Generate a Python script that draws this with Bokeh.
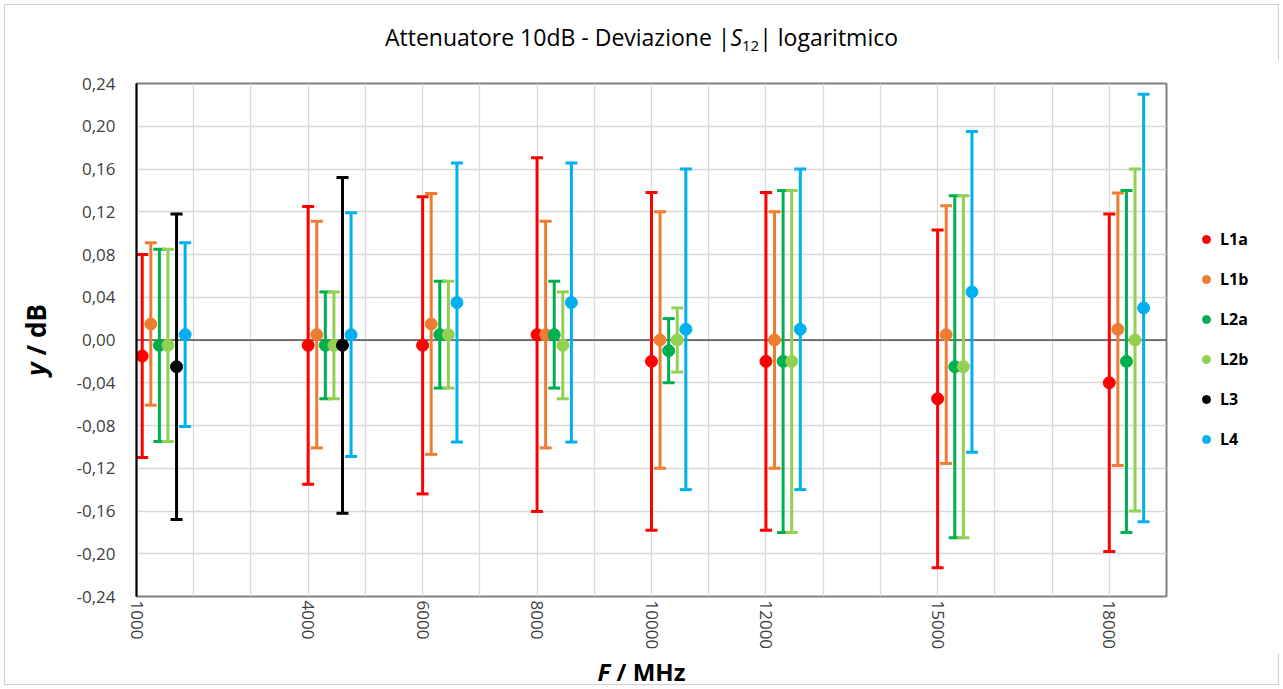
from bokeh.plotting import figure
from bokeh.models import (Range1d, FixedTicker, Whisker, TeeHead, ColumnDataSource,
                          Legend, LegendItem, Span, Div)
from bokeh.layouts import column, row
from bokeh.embed import file_html
from bokeh.resources import INLINE

# ---------------- data ----------------
freq_ticks = [1000, 4000, 6000, 8000, 10000, 12000, 15000, 18000]
freq_labels = ["1000", "4000", "6000", "8000", "10000", "12000", "15000", "18000"]
grid_x = [2000, 3000, 4000, 5000, 6000, 7000, 8000, 9000, 10000, 11000, 12000,
          13000, 14000, 15000, 16000, 17000, 18000, 19000]
y_ticks = [-0.24, -0.20, -0.16, -0.12, -0.08, -0.04, 0.0, 0.04, 0.08, 0.12, 0.16, 0.20, 0.24]
y_tick_labels = ["-0,24", "-0,20", "-0,16", "-0,12", "-0,08", "-0,04", "0,00",
                 "0,04", "0,08", "0,12", "0,16", "0,20", "0,24"]

series_names = ["L1a", "L1b", "L2a", "L2b", "L3", "L4"]
series_colors = ["#FF0000", "#ED7D31", "#00B050", "#92D050", "#000000", "#00B0F0"]

x_L1a = [1100, 4000, 6000, 8000, 10000, 12000, 15000, 18000]
x_L1b = [1250, 4150, 6150, 8150, 10150, 12150, 15150, 18150]
x_L2a = [1400, 4300, 6300, 8300, 10300, 12300, 15300, 18300]
x_L2b = [1550, 4450, 6450, 8450, 10450, 12450, 15450, 18450]
x_L3 = [1700, 4600]
x_L4 = [1850, 4750, 6600, 8600, 10600, 12600, 15600, 18600]

y_L1a = [-0.015, -0.005, -0.005, 0.005, -0.020, -0.020, -0.055, -0.040]
u_L1a = [0.095, 0.130, 0.139, 0.1655, 0.158, 0.158, 0.158, 0.158]
y_L1b = [0.015, 0.005, 0.015, 0.005, 0.000, 0.000, 0.005, 0.010]
u_L1b = [0.076, 0.106, 0.122, 0.106, 0.120, 0.120, 0.1205, 0.1275]
y_L2a = [-0.005, -0.005, 0.005, 0.005, -0.010, -0.020, -0.025, -0.020]
u_L2a = [0.090, 0.050, 0.050, 0.050, 0.030, 0.160, 0.160, 0.160]
y_L2b = [-0.005, -0.005, 0.005, -0.005, 0.000, -0.020, -0.025, 0.000]
u_L2b = [0.090, 0.050, 0.050, 0.050, 0.030, 0.160, 0.160, 0.160]
y_L3 = [-0.025, -0.005]
u_L3 = [0.143, 0.157]
y_L4 = [0.005, 0.005, 0.035, 0.035, 0.010, 0.010, 0.045, 0.030]
u_L4 = [0.086, 0.114, 0.1305, 0.1305, 0.150, 0.150, 0.150, 0.200]

xs = [x_L1a, x_L1b, x_L2a, x_L2b, x_L3, x_L4]
ys = [y_L1a, y_L1b, y_L2a, y_L2b, y_L3, y_L4]
us = [u_L1a, u_L1b, u_L2a, u_L2b, u_L3, u_L4]

title_html = ("Attenuatore 10dB - Deviazione |<i>S</i>"
              "<sub style='font-size:15px;line-height:0;vertical-align:-5px'>12</sub>"
              "| logaritmico")
xlabel_html = "<i>F</i> / MHz"
ylabel_html = "<i>y</i> / dB"

FONT = "Open Sans"
W, H = 1283, 689
TITLE_H, YLAB_W, LEG_W, PLOT_H = 60, 58, 115, 593
XLAB_H = H - TITLE_H - PLOT_H
MB_BOTTOM = 57

p = figure(width=W - YLAB_W - LEG_W, height=PLOT_H, output_backend="svg",
           toolbar_location=None,
           x_range=Range1d(1000, 19000), y_range=Range1d(-0.24, 0.24),
           min_border_left=78, min_border_right=2, min_border_top=23,
           min_border_bottom=MB_BOTTOM, background_fill_color="white",
           border_fill_color="white", title=None, margin=0)

p.outline_line_color = "#808080"
p.outline_line_width = 2

p.xaxis.ticker = FixedTicker(ticks=freq_ticks)
p.xaxis.major_label_overrides = dict(zip(freq_ticks, freq_labels))
p.xaxis.major_label_orientation = "vertical"
p.xaxis.axis_line_color = None
p.yaxis.ticker = FixedTicker(ticks=y_ticks)
p.yaxis.major_label_overrides = dict(zip(y_ticks, y_tick_labels))
p.yaxis.axis_line_color = "black"
p.yaxis.axis_line_width = 2
for ax in (p.xaxis, p.yaxis):
    ax.major_tick_line_color = None
    ax.minor_tick_line_color = None
    ax.major_tick_out = 0
    ax.major_tick_in = 0
    ax.minor_tick_out = 0
    ax.minor_tick_in = 0
    ax.major_label_text_font = FONT
    ax.major_label_text_font_size = "17px"
    ax.major_label_text_color = "#404040"
p.xaxis.major_label_standoff = 4
p.yaxis.major_label_standoff = 21

p.xgrid.ticker = FixedTicker(ticks=grid_x)
p.xgrid.grid_line_color = "#d9d9d9"
p.ygrid.grid_line_color = "#d9d9d9"
p.xgrid.grid_line_width = 1.3
p.ygrid.grid_line_width = 1.3

p.add_layout(Span(location=0, dimension="width", line_color="black",
                  line_width=1, level="underlay"))

# legend lives in its own small figure to the right of the plot area
lf = figure(width=LEG_W, height=PLOT_H, output_backend="svg", toolbar_location=None,
            x_axis_type=None, y_axis_type=None, min_border=0,
            x_range=Range1d(0, 1), y_range=Range1d(0, 1),
            background_fill_color="white", border_fill_color="white",
            outline_line_color=None, title=None, margin=0)

items = []
for name, color, x, y, u in zip(series_names, series_colors, xs, ys, us):
    src = ColumnDataSource(dict(x=x, y=y,
                                upper=[a + b for a, b in zip(y, u)],
                                lower=[a - b for a, b in zip(y, u)]))
    w = Whisker(base="x", upper="upper", lower="lower", source=src,
                dimension="height", line_color=color, line_width=3,
                upper_head=TeeHead(size=12, line_color=color, line_width=3),
                lower_head=TeeHead(size=12, line_color=color, line_width=3),
                level="glyph")
    p.add_layout(w)
    p.scatter("x", "y", source=src, size=12, marker="circle",
              fill_color=color, line_color=color)
    # same data, outside the legend figure's visible range: only its legend glyph shows
    lr = lf.scatter("x", "y", source=src, size=12, marker="circle",
                    fill_color=color, line_color=color)
    items.append(LegendItem(label=name, renderers=[lr]))

legend = Legend(items=items, location=(28, 146), orientation="vertical",
                spacing=18, glyph_height=22, glyph_width=20, label_height=22,
                label_standoff=4, padding=10, margin=0,
                border_line_color=None, background_fill_alpha=0,
                label_text_font=FONT, label_text_font_style="bold",
                label_text_font_size="16px", label_text_color="#000000")
lf.add_layout(legend)

title_div = Div(
    text=("<div style=\"width:%dpx;text-align:center;font-family:'Open Sans';"
          "font-size:23px;line-height:30px;padding-top:22px;color:#000;"
          "white-space:nowrap\">%s</div>") % (W, title_html),
    width=W, height=TITLE_H, margin=0)

ylab_div = Div(
    text=("<div style=\"width:%dpx;height:%dpx;display:flex;align-items:center;"
          "justify-content:flex-end;box-sizing:border-box;padding-right:7px;"
          "padding-bottom:34px\"><span style=\"writing-mode:vertical-rl;"
          "transform:rotate(180deg);font-family:'Open Sans';font-weight:bold;"
          "font-size:26px;line-height:30px;white-space:nowrap;color:#000\">%s</span></div>")
    % (YLAB_W, PLOT_H, ylabel_html),
    width=YLAB_W, height=PLOT_H, margin=0)

xlab_div = Div(
    text=("<div style=\"width:%dpx;text-align:center;font-family:'Open Sans';"
          "font-weight:bold;font-size:24px;line-height:33px;padding-top:2px;"
          "white-space:nowrap;color:#000\">%s</div>") % (W, xlabel_html),
    width=W, height=XLAB_H, margin=0)

layout = column(title_div, row(ylab_div, p, lf, spacing=0), xlab_div, spacing=0)
layout.styles = {"outline": "1px solid #d0d0d0", "outline-offset": "-5px",
                 "background": "white"}

open("out.html", "w").write(file_html(layout, INLINE))
